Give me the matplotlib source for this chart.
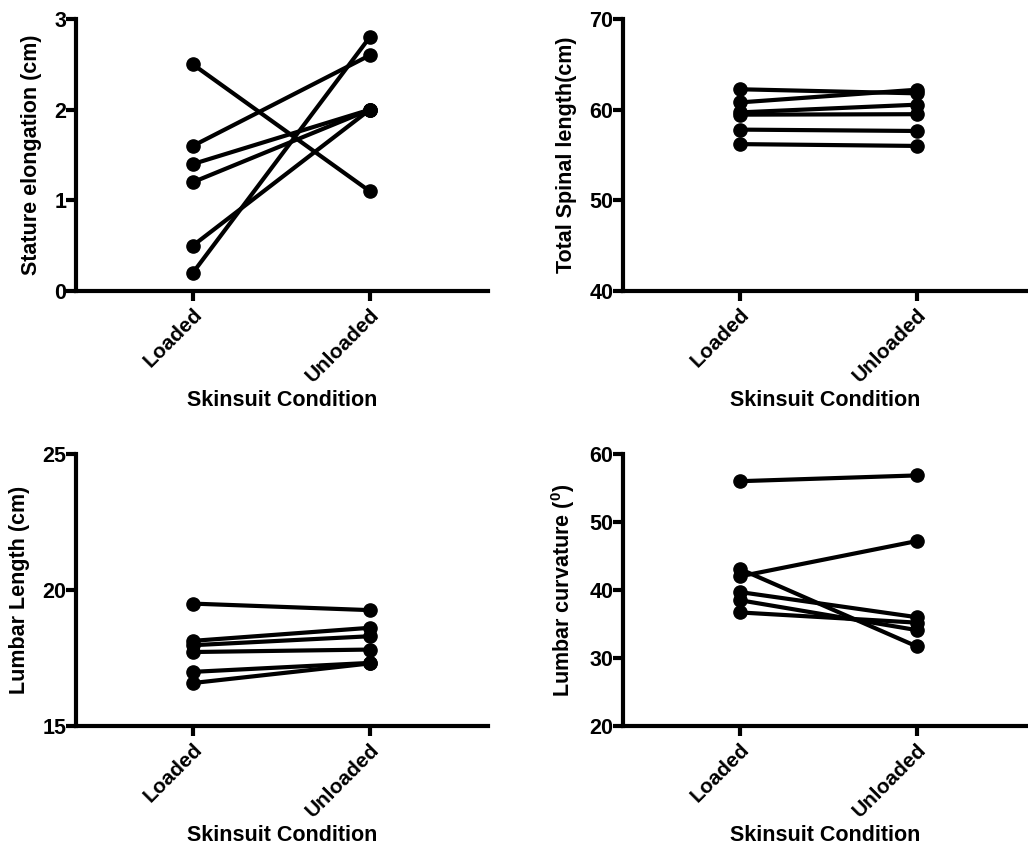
import matplotlib
matplotlib.use("Agg")
import matplotlib.pyplot as plt

plt.rcParams['font.family'] = ['Liberation Sans', 'DejaVu Sans']
plt.rcParams['font.weight'] = 'bold'
plt.rcParams['mathtext.fontset'] = 'custom'
plt.rcParams['mathtext.rm'] = 'Liberation Sans:bold'
plt.rcParams['mathtext.bf'] = 'Liberation Sans:bold'

conditions = ["Loaded", "Unloaded"]

# one pair per subject: (loaded, unloaded)
stature_loaded = [2.5, 1.6, 1.4, 1.2, 0.5, 0.2]
stature_unloaded = [1.1, 2.6, 2.0, 2.0, 2.0, 2.8]

spinal_loaded = [62.25, 60.8, 59.7, 59.45, 57.8, 56.2]
spinal_unloaded = [61.8, 62.2, 60.55, 59.5, 57.65, 56.0]

lumbar_len_loaded = [19.5, 18.13, 17.97, 17.72, 16.99, 16.58]
lumbar_len_unloaded = [19.26, 18.61, 18.3, 17.81, 17.32, 17.3]

curv_loaded = [56.0, 43.1, 42.0, 39.7, 38.5, 36.7]
curv_unloaded = [56.85, 31.7, 47.2, 36.0, 34.1, 35.2]

panels = [
    (stature_loaded, stature_unloaded, "Stature elongation (cm)", (0, 3), [0, 1, 2, 3]),
    (spinal_loaded, spinal_unloaded, "Total Spinal length(cm)", (40, 70), [40, 50, 60, 70]),
    (lumbar_len_loaded, lumbar_len_unloaded, "Lumbar Length (cm)", (15, 25), [15, 20, 25]),
    (curv_loaded, curv_unloaded, r"Lumbar curvature ($^{0}$)", (20, 60), [20, 30, 40, 50, 60]),
]

W, H = 1028, 848
fig = plt.figure(figsize=(W / 100, H / 100), dpi=100)

# axes boxes in pixels: left, top, right, bottom
boxes = [
    (76, 19, 488, 291),
    (623, 19, 1028, 291),
    (76, 454, 488, 726),
    (623, 454, 1028, 726),
]

lw = 3.0
for (lo, un, ylab, ylim, yticks), (l, t, r, b) in zip(panels, boxes):
    ax = fig.add_axes([l / W, 1 - b / H, (r - l) / W, (b - t) / H])
    for a, u in zip(lo, un):
        ax.plot([0, 1], [a, u], color='black', lw=lw, marker='o', markersize=9.5,
                solid_capstyle='round', clip_on=False, zorder=3)
    ax.set_ylim(*ylim)
    ax.set_yticks(yticks)
    ax.set_xticks([0, 1])
    ax.set_xticklabels(conditions, rotation=45, ha='right', va='top',
                       rotation_mode='anchor', fontsize=15, fontweight='bold')
    ax.set_xlim(-0.66, -0.66 + (r - l) / 177.0)
    for lab in ax.get_yticklabels():
        lab.set_fontsize(15.5)
        lab.set_fontweight('bold')
    ax.spines['top'].set_visible(False)
    ax.spines['right'].set_visible(False)
    ax.spines['left'].set_linewidth(lw)
    ax.spines['bottom'].set_linewidth(lw)
    ax.tick_params(axis='y', length=7, width=lw, pad=0)
    ax.tick_params(axis='x', length=7, width=lw, pad=3)
    ax.set_ylabel(ylab, fontsize=15.5, fontweight='bold', labelpad=9)
    ax.set_xlabel("Skinsuit Condition", fontsize=15.5, fontweight='bold', labelpad=3)

fig.savefig("out.png", dpi=100)
